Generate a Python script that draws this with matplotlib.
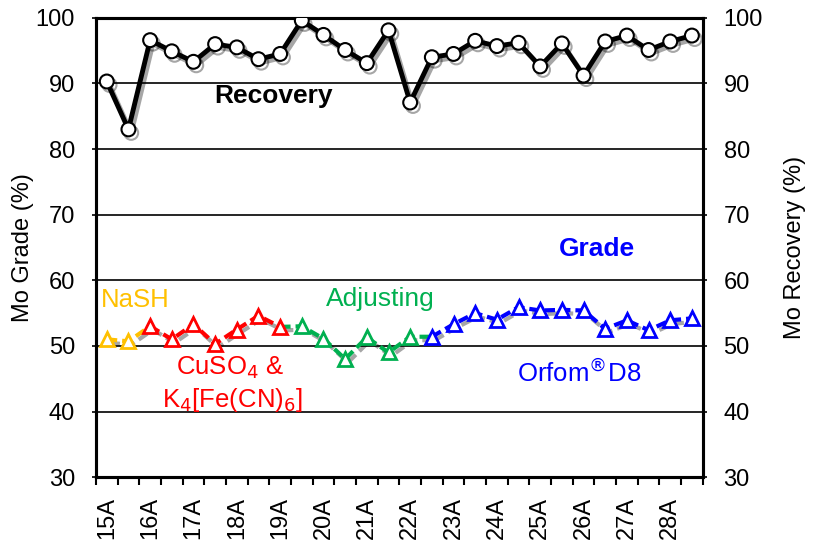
import numpy as np
import matplotlib
matplotlib.use("Agg")
import matplotlib.pyplot as plt
import matplotlib.patheffects as pe

plt.rcParams['font.family'] = ['Liberation Sans', 'DejaVu Sans']

# 28 campaigns: 15A, 15B, 16A, ... 28B
campaigns = [f"{n}{s}" for n in range(15, 29) for s in "AB"]
recovery = [90.3, 83.0, 96.6, 94.9, 93.3, 96.0, 95.5, 93.7, 94.5, 99.6,
            97.4, 95.1, 93.1, 98.1, 87.1, 94.0, 94.5, 96.5, 95.7, 96.2,
            92.6, 96.1, 91.2, 96.4, 97.3, 95.1, 96.4, 97.3]
grade = [51.0, 50.7, 53.0, 51.0, 53.3, 50.3, 52.5, 54.6, 52.9, 53.0,
         51.1, 48.0, 51.3, 49.0, 51.4, 51.4, 53.3, 55.0, 54.0, 55.9,
         55.4, 55.5, 55.4, 52.6, 53.9, 52.4, 53.9, 54.2]
# reagent regimes: (first index, last index, colour)
regimes = [(0, 1, '#FFC000'), (2, 8, '#FF0000'), (9, 14, '#00B050'), (15, 27, '#0000FF')]
# line segments for each regime (start, end)
regime_lines = [(0, 2), (2, 8), (8, 15), (15, 27)]

x = np.arange(len(campaigns))
shadow = [pe.SimpleLineShadow(offset=(2, -2.5), shadow_color='k', alpha=0.35),
          pe.Normal()]

fig = plt.figure(figsize=(8.2, 5.41), dpi=100)
ax = fig.add_axes([0.117, 0.118, 0.74, 0.849])
ax2 = ax.twinx()

for y in range(40, 100, 10):
    ax.axhline(y, color='black', lw=1.2, zorder=1)

for (a, b, c), (la, lb) in zip(regimes, regime_lines):
    ax.plot(x[la:lb + 1], grade[la:lb + 1], color=c, lw=3, dashes=(2.5, 1.2),
            zorder=3, path_effects=shadow)
    ax.plot(x[a:b + 1], grade[a:b + 1], ls='none', marker='^', ms=10,
            mfc='white', mec=c, mew=2, zorder=4)

ax2.plot(x, recovery, color='black', lw=3.5, marker='o', ms=10,
         mfc='white', mec='black', mew=1.5, zorder=3, path_effects=shadow)

for a in (ax, ax2):
    a.set_xlim(-0.5, len(campaigns) - 0.5)
    a.set_ylim(30, 100)
    a.set_yticks(range(30, 101, 10))
    a.tick_params(axis='y', labelsize=17, length=3, width=1.2, pad=12)
    for s in a.spines.values():
        s.set_linewidth(2.2)

ax.set_xticks(x[::2])
ax.set_xticklabels(campaigns[::2], rotation=90, fontsize=17)
ax.set_xticks(np.arange(-0.5, len(campaigns), 1), minor=True)
ax.tick_params(axis='x', which='major', length=0, pad=14)
ax.tick_params(axis='x', which='minor', length=6, width=1.5)
ax.set_ylabel('Mo Grade (%)', fontsize=17, labelpad=1)
ax2.set_ylabel('Mo Recovery (%)', fontsize=17, labelpad=15)

ax.text(7.7, 88.1, 'Recovery', fontsize=19, fontweight='bold', ha='center', va='center')
ax.text(22.6, 64.8, 'Grade', fontsize=19, fontweight='bold', color='#0000FF',
        ha='center', va='center')
ax.text(1.3, 57.0, 'NaSH', fontsize=18.5, color='#FFC000', ha='center', va='center')
ax.text(12.6, 57.1, 'Adjusting', fontsize=19, color='#00B050', ha='center', va='center')
ax.text(5.7, 46.6, r'CuSO$_4$ &', fontsize=18.5, color='#FF0000', ha='center', va='center')
ax.text(5.8, 41.7, r'K$_4$[Fe(CN)$_6$]', fontsize=18.5, color='#FF0000',
        ha='center', va='center')
ax.text(21.8, 45.9, r'Orfom$^{\circledR}$D8', fontsize=18.5, color='#0000FF',
        ha='center', va='center')

fig.savefig('out.png', dpi=100)
